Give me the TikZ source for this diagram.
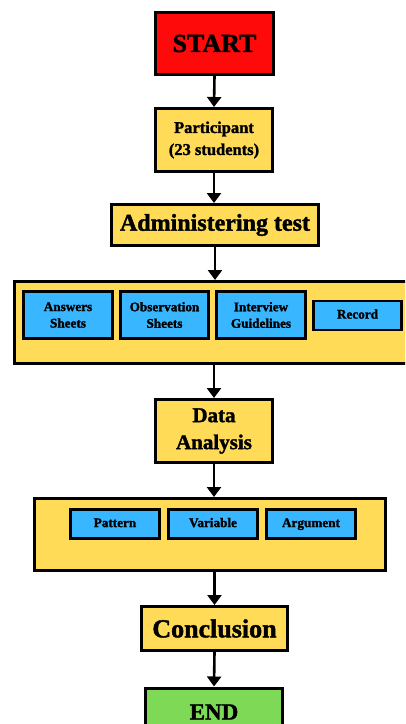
\documentclass[tikz,border=0pt]{standalone}
\usepackage{fontspec}
\setmainfont{Liberation Serif}[BoldFeatures={FakeBold=1.6}]
\usetikzlibrary{arrows.meta}
\definecolor{cred}{HTML}{FF0A0A}
\definecolor{cyellow}{HTML}{FFDB58}
\definecolor{cblue}{HTML}{38B6FF}
\definecolor{cgreen}{HTML}{7ED957}
\begin{document}
\begin{tikzpicture}[x=1pt,y=-1pt,
  box/.style={draw=black, line width=3pt, inner sep=0pt, align=center, font=\bfseries},
  ybox/.style={box, fill=cyellow},
  bbox/.style={box, fill=cblue, line width=2.6pt, font=\bfseries\fontsize{13.2}{16.5}\selectfont},
  oneline/.style={text height=8.8pt, text depth=2.6pt},
  arr/.style={line width=2.6pt, -{Triangle[width=14pt,length=10pt]}}
]
\useasboundingbox (0,0) rectangle (405,724);
\clip (0,0) rectangle (405,724);
\fill[white] (0,0) rectangle (405,724);

\node[box, fill=cred, minimum width=118pt, minimum height=62pt,
      font=\bfseries\fontsize{26}{30}\selectfont] (start) at (214.5,43.5) {START};
\node[ybox, minimum width=117pt, minimum height=63pt,
      font=\bfseries\fontsize{16.5}{22}\selectfont] (part) at (214,140) {Participant\\(23 students)};
\node[ybox, minimum width=207pt, minimum height=41pt,
      font=\bfseries\fontsize{24}{28}\selectfont] (admin) at (215,225) {Administering test};

\node[ybox, minimum width=400pt, minimum height=82pt] (inst) at (214,322.5) {};
\node[bbox, minimum width=89pt, minimum height=47pt] (ans) at (68,315) {Answers\\Sheets};
\node[bbox, minimum width=88pt, minimum height=47pt] (obs) at (164.5,315) {Observation\\Sheets};
\node[bbox, minimum width=89pt, minimum height=47pt] (int) at (261,315) {Interview\\Guidelines};
\node[bbox, oneline, minimum width=88pt, minimum height=29pt] (rec) at (357.5,315.5) {Record};

\node[ybox, minimum width=117pt, minimum height=63pt,
      font=\bfseries\fontsize{21}{27}\selectfont] (data) at (214,431) {Data\\Analysis};

\node[ybox, minimum width=351pt, minimum height=72pt] (anal) at (210,534.5) {};
\node[bbox, oneline, minimum width=89pt, minimum height=29pt] (pat) at (115,524) {Pattern};
\node[bbox, oneline, minimum width=89pt, minimum height=29pt] (var) at (213,524) {Variable};
\node[bbox, oneline, minimum width=89pt, minimum height=29pt] (arg) at (311,524) {Argument};

\node[ybox, minimum width=146pt, minimum height=44pt,
      font=\bfseries\fontsize{26}{30}\selectfont] (conc) at (214.5,628.5) {Conclusion};
\node[box, fill=cgreen, minimum width=137pt, minimum height=48pt,
      font=\bfseries\fontsize{23}{28}\selectfont] (end) at (214,712) {END};

\draw[arr] (start.south) -- (part.north);
\draw[arr] (part.south) -- (part.south |- admin.north);
\draw[arr] (admin.south) -- (admin.south |- inst.north);
\draw[arr] (inst.south -| data.north) -- (data.north);
\draw[arr] (data.south) -- (data.south |- anal.north);
\draw[arr] (anal.south -| conc.north) -- (conc.north);
\draw[arr] (conc.south) -- (end.north);
\end{tikzpicture}
\end{document}
